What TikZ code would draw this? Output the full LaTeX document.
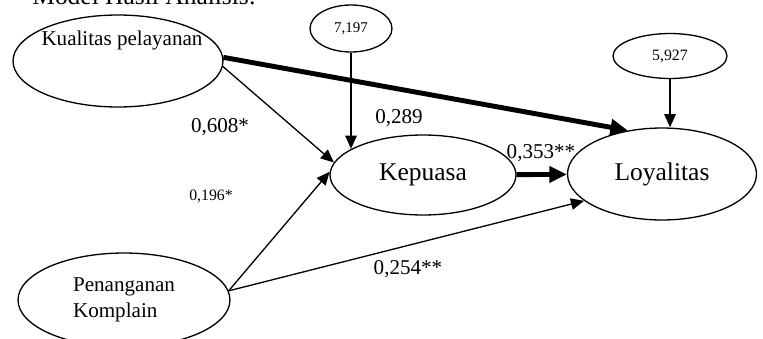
\documentclass[tikz,border=0pt]{standalone}
\usepackage{fontspec}
\setmainfont{Liberation Serif}
\usetikzlibrary{shapes.geometric,arrows.meta}

\begin{document}
\begin{tikzpicture}[x=0.02cm, y=-0.02cm,
  var/.style={draw, ellipse, line width=0.75pt, inner sep=0pt},
  path/.style={line width=0.75pt, -{Triangle[length=7.5pt,width=6.5pt]}},
  bold path/.style={line width=2.8pt, -{Triangle[length=10pt,width=9pt]}},
  coef/.style={inner sep=0pt, font=\fontsize{12}{14.5}\selectfont}]
  \useasboundingbox (0, 0) rectangle (763, 338);

  \node[anchor=base west, inner sep=0pt, font=\fontsize{14.5}{17}\selectfont] (title) at (32, 5) {Model Hasil Analisis:};

  \node[var, minimum width=4.2cm, minimum height=1.84cm] (kq) at (118, 61) {};
  \node[coef] (kqt) at (122, 40.5) {Kualitas pelayanan};
  \node[var, minimum width=1.64cm, minimum height=0.94cm, font=\fontsize{8.5}{10}\selectfont] (e1) at (351, 28.5) {7,197};
  \node[var, minimum width=2.28cm, minimum height=0.9cm, font=\fontsize{9}{11}\selectfont] (e2) at (670, 56) {5,927};

  \node[var, minimum width=3.72cm, minimum height=1.6cm, font=\fontsize{14.5}{17}\selectfont] (kep) at (423, 175) {Kepuasa};
  \node[var, minimum width=3.78cm, minimum height=1.84cm, font=\fontsize{14.5}{17}\selectfont] (loy) at (662, 174) {Loyalitas};

  \node[var, minimum width=4.24cm, minimum height=1.88cm, align=left, font=\fontsize{12}{14.5}\selectfont] (pk) at (124, 300) {Penanganan\\Komplain};

  \draw[path] (kq.-3) -- (kep.172);
  \draw[bold path] (kq.2) -- (loy.128);
  \draw[path] (pk.5) -- (kep.178);
  \draw[path] (pk.5) -- (loy.199);
  \draw[bold path] (kep) -- (loy);
  \draw[path] (e1.south) -- (e1.south |- kep.160);
  \draw[path] (e2.south) -- (e2.south |- loy.north);

  \node[coef] (c1) at (220, 127) {0,608*};
  \node[coef] (c2) at (399, 118) {0,289};
  \node[coef, font=\fontsize{9}{11}\selectfont] (c3) at (211, 196) {0,196*};
  \node[coef] (c4) at (541, 153) {0,353**};
  \node[coef] (c5) at (408, 269) {0,254**};
\end{tikzpicture}
\end{document}
